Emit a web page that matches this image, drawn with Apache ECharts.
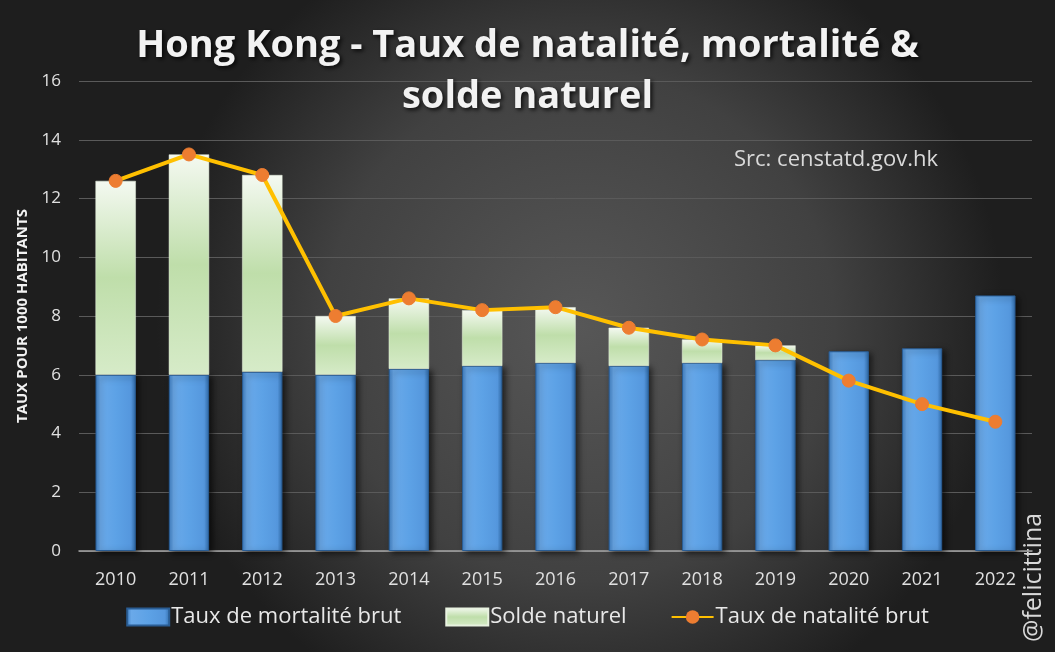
<!DOCTYPE html>
<html>
<head>
<meta charset="utf-8">
<script src="https://cdn.jsdelivr.net/npm/echarts@6/dist/echarts.min.js"></script>
<style>
html,body{margin:0;padding:0;background:#333;}
#chart{width:1055px;height:652px;}
</style>
</head>
<body>
<div id="chart"></div>
<script>
const years = ['2010','2011','2012','2013','2014','2015','2016','2017','2018','2019','2020','2021','2022'];
const mortalite = [6.0, 6.0, 6.1, 6.0, 6.2, 6.3, 6.4, 6.3, 6.4, 6.5, 6.8, 6.9, 8.7];
const solde = [6.6, 7.5, 6.7, 2.0, 2.4, 1.9, 1.9, 1.3, 0.8, 0.5, -1.0, -1.9, -4.3];
const natalite = [12.6, 13.5, 12.8, 8.0, 8.6, 8.2, 8.3, 7.6, 7.2, 7.0, 5.8, 5.0, 4.4];
const yTicks = [0, 2, 4, 6, 8, 10, 12, 14, 16];

const narrow = "'Liberation Sans Narrow', 'Open Sans', sans-serif";
const chart = echarts.init(document.getElementById('chart'));

const blueFill = new echarts.graphic.LinearGradient(0, 0, 1, 0, [
  {offset: 0, color: '#3f7fc4'},
  {offset: 0.12, color: '#6aa9e9'},
  {offset: 0.5, color: '#5da2e6'},
  {offset: 0.88, color: '#5597dd'},
  {offset: 1, color: '#2f6aa8'}
]);
const greenFill = new echarts.graphic.LinearGradient(0, 0, 0, 1, [
  {offset: 0, color: '#f4f9f1'},
  {offset: 0.5, color: '#bfdeaa'},
  {offset: 1, color: '#d6ebc8'}
]);

chart.setOption({
  animation: false,
  graphic: [
    {
      type: 'rect', z: -10, silent: true,
      shape: {x: 0, y: 0, width: 1055, height: 652},
      style: {
        fill: new echarts.graphic.RadialGradient(0.55, 0.5, 0.65, [
          {offset: 0, color: '#575757'},
          {offset: 0.6, color: '#414141'},
          {offset: 1, color: '#1e1e1e'}
        ])
      }
    },
    {
      type: 'text', left: 734, top: 149,
      style: {text: 'Src: censtatd.gov.hk', fill: '#d9d9d9', font: "22px " + narrow}
    },
    {
      type: 'text', rotation: Math.PI / 2, x: 1021, y: 642,
      style: {text: '@felicittina', fill: '#d9d9d9', font: "25px " + narrow}
    }
  ],
  title: {
    text: 'Hong Kong - Taux de natalité, mortalité &\nsolde naturel',
    left: 'center',
    top: 16,
    textStyle: {
      color: '#f2f2f2', fontFamily: "'Open Sans', sans-serif", fontWeight: 'bold',
      fontSize: 38, lineHeight: 51,
      textShadowColor: 'rgba(0,0,0,0.8)', textShadowBlur: 4, textShadowOffsetX: 2, textShadowOffsetY: 2
    }
  },
  grid: {left: 79, right: 23, top: 81, bottom: 101, containLabel: false},
  legend: {
    bottom: 19, left: 'center',
    itemWidth: 42, itemHeight: 17, itemGap: 44,
    textStyle: {color: '#e8e8e8', fontSize: 22, fontFamily: narrow, padding: [0, 0, 0, -3]},
    data: [
      {name: 'Taux de mortalité brut', icon: 'rect'},
      {name: 'Solde naturel', icon: 'rect'},
      {name: 'Taux de natalité brut'}
    ]
  },
  xAxis: {
    type: 'category', data: years,
    axisLine: {lineStyle: {color: '#a6a6a6', width: 1.5}},
    axisTick: {show: false},
    axisLabel: {color: '#e0e0e0', fontSize: 18, fontFamily: narrow, margin: 20}
  },
  yAxis: {
    type: 'value', min: yTicks[0], max: yTicks[yTicks.length - 1], interval: 2,
    name: 'TAUX POUR 1000 HABITANTS', nameLocation: 'middle', nameGap: 43, nameRotate: 90,
    nameTextStyle: {color: '#f2f2f2', fontSize: 15, fontWeight: 'bold', fontFamily: "'Open Sans', sans-serif"},
    axisLine: {show: false}, axisTick: {show: false},
    axisLabel: {color: '#e0e0e0', fontSize: 17, fontFamily: narrow, margin: 18},
    splitLine: {lineStyle: {color: '#5a5a5a', width: 1}}
  },
  series: [
    {
      name: 'Taux de mortalité brut', type: 'bar', stack: 'tot', data: mortalite,
      barWidth: '55%',
      itemStyle: {color: blueFill, borderColor: '#2a5d94', borderWidth: 1,
        shadowColor: 'rgba(0,0,0,0.6)', shadowBlur: 6, shadowOffsetX: 3, shadowOffsetY: 2}
    },
    {
      name: 'Solde naturel', type: 'bar', stack: 'tot', data: solde,
      itemStyle: {color: greenFill, borderColor: '#e8f2e0', borderWidth: 0.5}
    },
    {
      name: 'Taux de natalité brut', type: 'line', data: natalite,
      symbol: 'circle', symbolSize: 13, z: 5,
      lineStyle: {color: '#ffc000', width: 4},
      itemStyle: {color: '#ed7d31', borderColor: '#ed7d31'}
    }
  ]
});
</script>
</body>
</html>
